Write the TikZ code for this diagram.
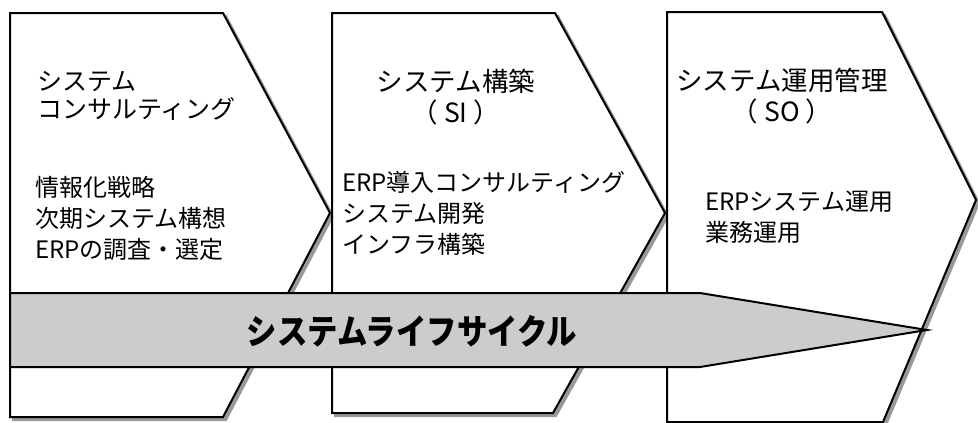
\documentclass[tikz,border=0pt]{standalone}
\usepackage{fontspec}
\setmainfont{Noto Sans CJK JP}
\definecolor{shadowgray}{HTML}{999999}
\definecolor{arrowgray}{HTML}{CCCCCC}
\begin{document}
\begin{tikzpicture}[x=1pt,y=-1pt,line join=miter]
\tikzset{
  stage/.style={draw=black,line width=2pt,fill=white},
  stageshadow/.style={draw=shadowgray,fill=shadowgray,line width=2pt,shift={(3,3)}},
  life/.style={draw=black,line width=2pt,fill=arrowgray},
  titletext/.style={font=\fontsize{26.5}{31}\selectfont,inner sep=0pt},
  bodytext/.style={font=\fontsize{24}{31}\selectfont,align=left,anchor=west,inner sep=0pt},
}
\useasboundingbox (0,0) rectangle (978,423);
% stage 1
\fill[stageshadow] (10,13) -- (223,13) -- (330,213) -- (223,417) -- (10,417) -- cycle;
\filldraw[stage] (10,13) -- (223,13) -- (330,213) -- (223,417) -- (10,417) -- cycle;
% stage 2
\fill[stageshadow] (332,13) -- (555,13) -- (665,213) -- (553,413) -- (332,413) -- cycle;
\filldraw[stage] (332,13) -- (555,13) -- (665,213) -- (553,413) -- (332,413) -- cycle;
% stage 3
\fill[stageshadow] (667,12) -- (882,12) -- (976,200) -- (883,422) -- (667,422) -- cycle;
\filldraw[stage] (667,12) -- (882,12) -- (976,200) -- (883,422) -- (667,422) -- cycle;
% life cycle arrow
\filldraw[life] (10,293) -- (700,293) -- (927,330) -- (700,367) -- (10,367) -- cycle;
\node[font=\bfseries\fontsize{31}{31}\selectfont,inner sep=0pt] (life) at (412,331) {\scalebox{0.98}[1.12]{システムライフサイクル}};
% texts
\node[inner sep=0pt,align=left,anchor=west,font=\fontsize{25}{28}\selectfont] (t1) at (37,96) {システム\\コンサルティング};
\node[bodytext] (b1) at (35,218) {情報化戦略\\次期システム構想\\ERPの調査・選定};
\node[titletext,align=center] (t2) at (456,97) {システム構築\\（ SI ）};
\node[bodytext] (b2) at (342,213) {ERP導入コンサルティング\\システム開発\\インフラ構築};
\node[titletext,align=center] (t3) at (782,96) {システム運用管理\\（ SO ）};
\node[bodytext] (b3) at (705,217) {ERPシステム運用\\業務運用};
\end{tikzpicture}
\end{document}
